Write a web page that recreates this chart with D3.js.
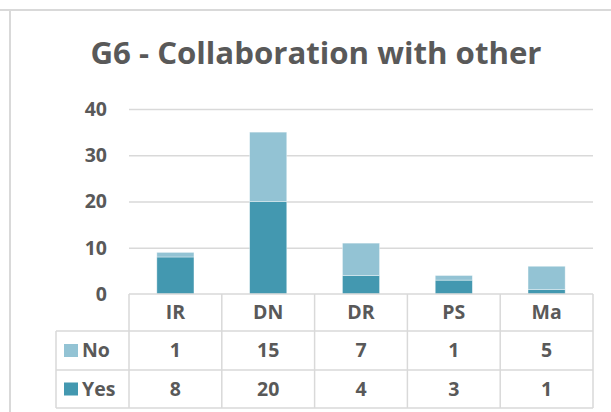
<!DOCTYPE html>
<html>
<head>
<meta charset="utf-8">
<script src="https://cdn.jsdelivr.net/npm/d3@7"></script>
<style>
  body { margin: 0; background: #fff; }
  text { font-family: "Open Sans", sans-serif; font-weight: bold; fill: #595959; }
</style>
</head>
<body>
<script>
// data
const categories = ["IR", "DN", "DR", "PS", "Ma"];
const seriesNames = ["No", "Yes"];
const noValues = [1, 15, 7, 1, 5];
const yesValues = [8, 20, 4, 3, 1];
const yTicks = [0, 10, 20, 30, 40];
const title = "G6 - Collaboration with other";

const colors = {No: "#93c3d4", Yes: "#4398b0"};
const gridColor = "#d9d9d9";
const fontSize = "19.5px";

const W = 611, H = 412;
// plot area
const plot = {left: 129, right: 593, top: 109, bottom: 294};
// table rows
const rowHeader = 331, rowNo = 370, rowYes = 408, tableLeft = 56;

const svg = d3.select("body")
    .append("svg")
    .attr("width", W)
    .attr("height", H);

svg.append("rect").attr("width", W).attr("height", H).attr("fill", "#fff");

// chart frame (cropped)
svg.append("line")
    .attr("x1", 0).attr("x2", W).attr("y1", 10).attr("y2", 10)
    .attr("stroke", gridColor).attr("stroke-width", 2);
svg.append("line")
    .attr("x1", 10).attr("x2", 10).attr("y1", 10).attr("y2", H)
    .attr("stroke", gridColor).attr("stroke-width", 2);

// title
svg.append("text")
    .attr("x", 316)
    .attr("y", 64)
    .attr("text-anchor", "middle")
    .style("font-size", "30px")
    .attr("textLength", 451)
    .attr("lengthAdjust", "spacingAndGlyphs")
    .text(title);

// scales
const x = d3.scaleBand()
    .domain(categories)
    .range([plot.left, plot.right])
    .paddingInner(0.6)
    .paddingOuter(0.3);

const xCol = d3.scaleBand()
    .domain(categories)
    .range([plot.left, plot.right]);

const y = d3.scaleLinear()
    .domain([0, 40])
    .range([plot.bottom, plot.top]);

// gridlines
const grid = svg.append("g")
    .attr("transform", "translate(" + plot.left + ",0)")
    .call(d3.axisLeft(y).tickValues(yTicks.slice(1)).tickSize(-(plot.right - plot.left)).tickFormat(""));
grid.select(".domain").remove();
grid.selectAll("line").attr("stroke", gridColor).attr("stroke-width", 1.5);

// y axis labels
const yAxis = svg.append("g")
    .attr("transform", "translate(" + (plot.left - 22) + ",0)")
    .call(d3.axisLeft(y).tickValues(yTicks).tickSize(0).tickPadding(0));
yAxis.select(".domain").remove();
yAxis.selectAll("text")
    .style("font-size", fontSize)
    .style("font-family", "'Open Sans', sans-serif")
    .attr("fill", "#595959")
    .attr("dy", "0.32em");

// stacked bars
const table = categories.map(function(c, i) {
    return {cat: c, Yes: yesValues[i], No: noValues[i]};
});
const stacked = d3.stack().keys(["Yes", "No"])(table);

svg.append("g")
    .selectAll("g")
    .data(stacked)
    .enter()
    .append("g")
    .attr("fill", function(d) { return colors[d.key]; })
    .selectAll("rect")
    .data(function(d) { return d; })
    .enter()
    .append("rect")
        .attr("x", function(d) { return x(d.data.cat); })
        .attr("y", function(d) { return y(d[1]); })
        .attr("width", x.bandwidth())
        .attr("height", function(d) { return y(d[0]) - y(d[1]); })
        .attr("stroke", "#fff")
        .attr("stroke-opacity", 0.5)
        .attr("stroke-width", 0.75);

// data table
const tbl = svg.append("g").attr("stroke", gridColor).attr("stroke-width", 1.5);
// horizontal lines
tbl.append("line").attr("x1", plot.left).attr("x2", plot.right).attr("y1", plot.bottom).attr("y2", plot.bottom);
[rowHeader, rowNo, rowYes].forEach(function(yy) {
    tbl.append("line").attr("x1", tableLeft).attr("x2", plot.right).attr("y1", yy).attr("y2", yy);
});
// vertical lines
tbl.append("line").attr("x1", tableLeft).attr("x2", tableLeft).attr("y1", rowHeader).attr("y2", rowYes);
categories.forEach(function(c) {
    tbl.append("line").attr("x1", xCol(c)).attr("x2", xCol(c)).attr("y1", plot.bottom).attr("y2", rowYes);
});
tbl.append("line").attr("x1", plot.right).attr("x2", plot.right).attr("y1", plot.bottom).attr("y2", rowYes);

// header labels
svg.selectAll("text.cat")
    .data(categories)
    .enter()
    .append("text")
        .attr("class", "cat")
        .attr("x", function(d) { return xCol(d) + xCol.bandwidth() / 2; })
        .attr("y", (plot.bottom + rowHeader) / 2)
        .attr("dy", "0.35em")
        .attr("text-anchor", "middle")
        .style("font-size", fontSize)
        .text(function(d) { return d; });

// series rows
const rows = [
    {name: "No", values: noValues, top: rowHeader, bottom: rowNo},
    {name: "Yes", values: yesValues, top: rowNo, bottom: rowYes}
];
rows.forEach(function(r) {
    const cy = (r.top + r.bottom) / 2;
    svg.append("rect")
        .attr("x", 64).attr("y", cy - 6.5)
        .attr("width", 14).attr("height", 13)
        .attr("fill", colors[r.name]);
    svg.append("text")
        .attr("x", 82).attr("y", cy)
        .attr("dy", "0.35em")
        .style("font-size", fontSize)
        .text(r.name);
    svg.selectAll("text.v" + r.name)
        .data(r.values)
        .enter()
        .append("text")
            .attr("class", "v" + r.name)
            .attr("x", function(d, i) { return xCol(categories[i]) + xCol.bandwidth() / 2; })
            .attr("y", cy)
            .attr("dy", "0.35em")
            .attr("text-anchor", "middle")
            .style("font-size", fontSize)
            .text(function(d) { return d; });
});
</script>
</body>
</html>
